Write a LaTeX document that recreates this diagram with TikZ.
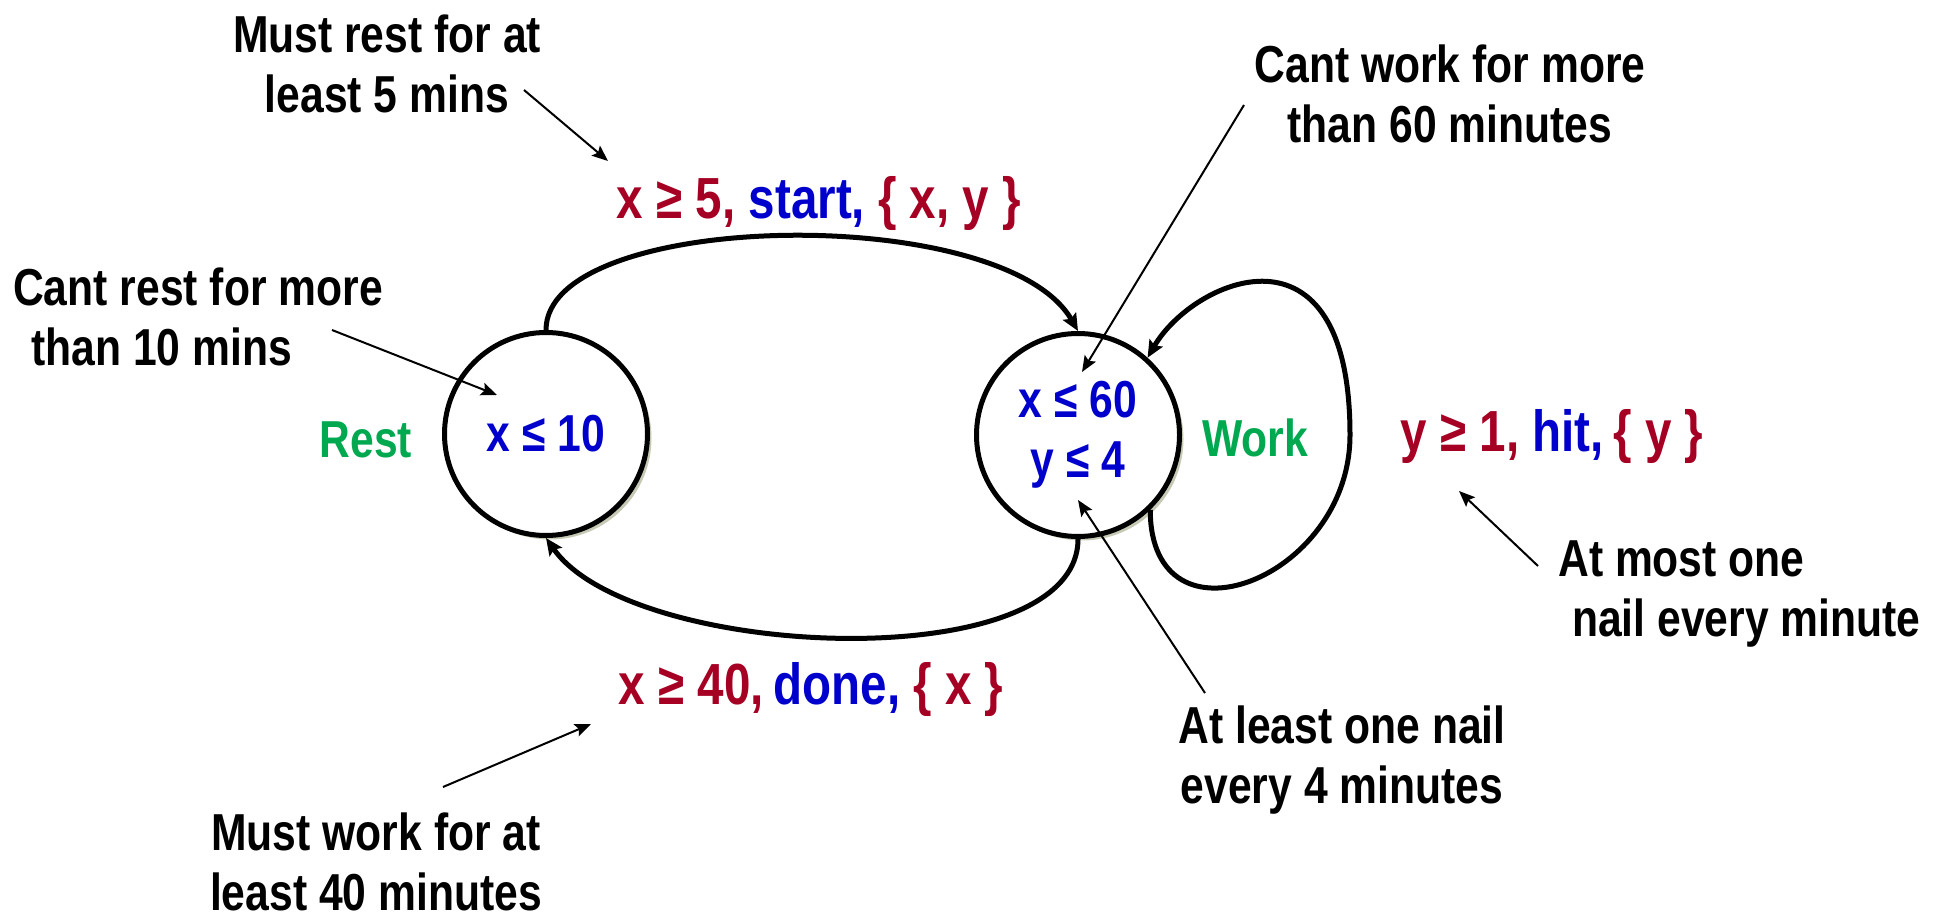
\documentclass[tikz,border=0pt]{standalone}
\usepackage{fontspec}
\setmainfont{Liberation Sans}[FakeStretch=0.82]
\usetikzlibrary{arrows.meta,shadows}
\definecolor{guardred}{RGB}{165,0,35}
\definecolor{actblue}{RGB}{0,0,205}
\definecolor{locgreen}{RGB}{0,168,80}
\definecolor{shadetone}{RGB}{175,178,150}

\begin{document}
\begin{tikzpicture}[
  x=1pt, y=1pt,
  lbl/.style={font=\bfseries\fontsize{52}{60}\selectfont, inner sep=0pt},
  note/.style={lbl, align=center},
  guard/.style={lbl, font=\bfseries\fontsize{58}{64}\selectfont, text=guardred},
  state/.style={lbl, circle, draw, line width=5pt, fill=white, text=actblue,
                minimum size=203pt, align=center,
                drop shadow={shadow xshift=4pt, shadow yshift=-4pt, fill=shadetone, opacity=.7}},
  edge/.style={line width=5pt, -{Stealth[length=17pt,width=15pt,inset=3pt]}},
  pointer/.style={line width=2pt, -{Stealth[length=16pt,width=13pt,inset=3pt]}}
]
\useasboundingbox (0,0) rectangle (1941,922);

% locations
\node[state] (rest) at (546,488) {x ≤ 10};
\node[state] (work) at (1078,487) {x ≤ 60\\y ≤ 4};
\node[lbl, text=locgreen] (restname) at (366,482) {Rest};
\node[lbl, text=locgreen] (workname) at (1255,484) {Work};

% transitions
\coordinate (loopR) at (1350,487);
\draw[edge] (rest.north) to[out=90, in=120, out distance=120pt, in distance=150pt] (work.north);
\draw[edge] (work.south) to[out=-90, in=-55, out distance=140pt, in distance=150pt] (rest.south);
\draw[edge] (work.-46) to[out=-90, in=-90, distance=145pt] (loopR)
  to[out=90, in=60, out distance=225pt, in distance=90pt] (work.48);

\node[guard] (startlbl) at (819,718) {x ≥ 5, \textcolor{actblue}{start,} \{ x, y \}};
\node[guard] (donelbl)  at (811,232) {x ≥ 40,\,\textcolor{actblue}{done,} \{ x \}};
\node[guard] (hitlbl)   at (1552,485) {y ≥ 1, \textcolor{actblue}{hit,}\,\{ y \}};

% annotations
\node[note] (restmin)  at (387,858)  {Must rest for at\\least 5 mins};
\node[note, align=left, anchor=west] (restmax) at (13,605) {Cant rest for more\\\hspace*{18pt}than 10 mins};
\node[note] (workmax)  at (1450,828) {Cant work for more\\than 60 minutes};
\node[note, align=left, anchor=west] (hitmin) at (1558,328) {At most one\\\hspace*{14pt}nail every minute};
\node[note] (hitmax)   at (1342,162) {At least one nail\\every 4 minutes};
\node[note] (workmin)  at (376,60)   {Must work for at\\least 40 minutes};

\coordinate (restmin-t) at (524,832);  \coordinate (restmin-h) at (608,761);
\coordinate (restmax-t) at (332,592);  \coordinate (restmax-h) at (497,527);
\coordinate (workmax-t) at (1244,817); \coordinate (workmax-h) at (1082,550);
\coordinate (hitmin-t)  at (1538,356); \coordinate (hitmin-h)  at (1459,431);
\coordinate (hitmax-t)  at (1205,229); \coordinate (hitmax-h)  at (1078,422);
\coordinate (workmin-t) at (443,135);  \coordinate (workmin-h) at (591,198);

\foreach \n in {restmin,restmax,workmax,hitmin,hitmax,workmin}
  \draw[pointer] (\n-t) -- (\n-h);
\end{tikzpicture}
\end{document}
